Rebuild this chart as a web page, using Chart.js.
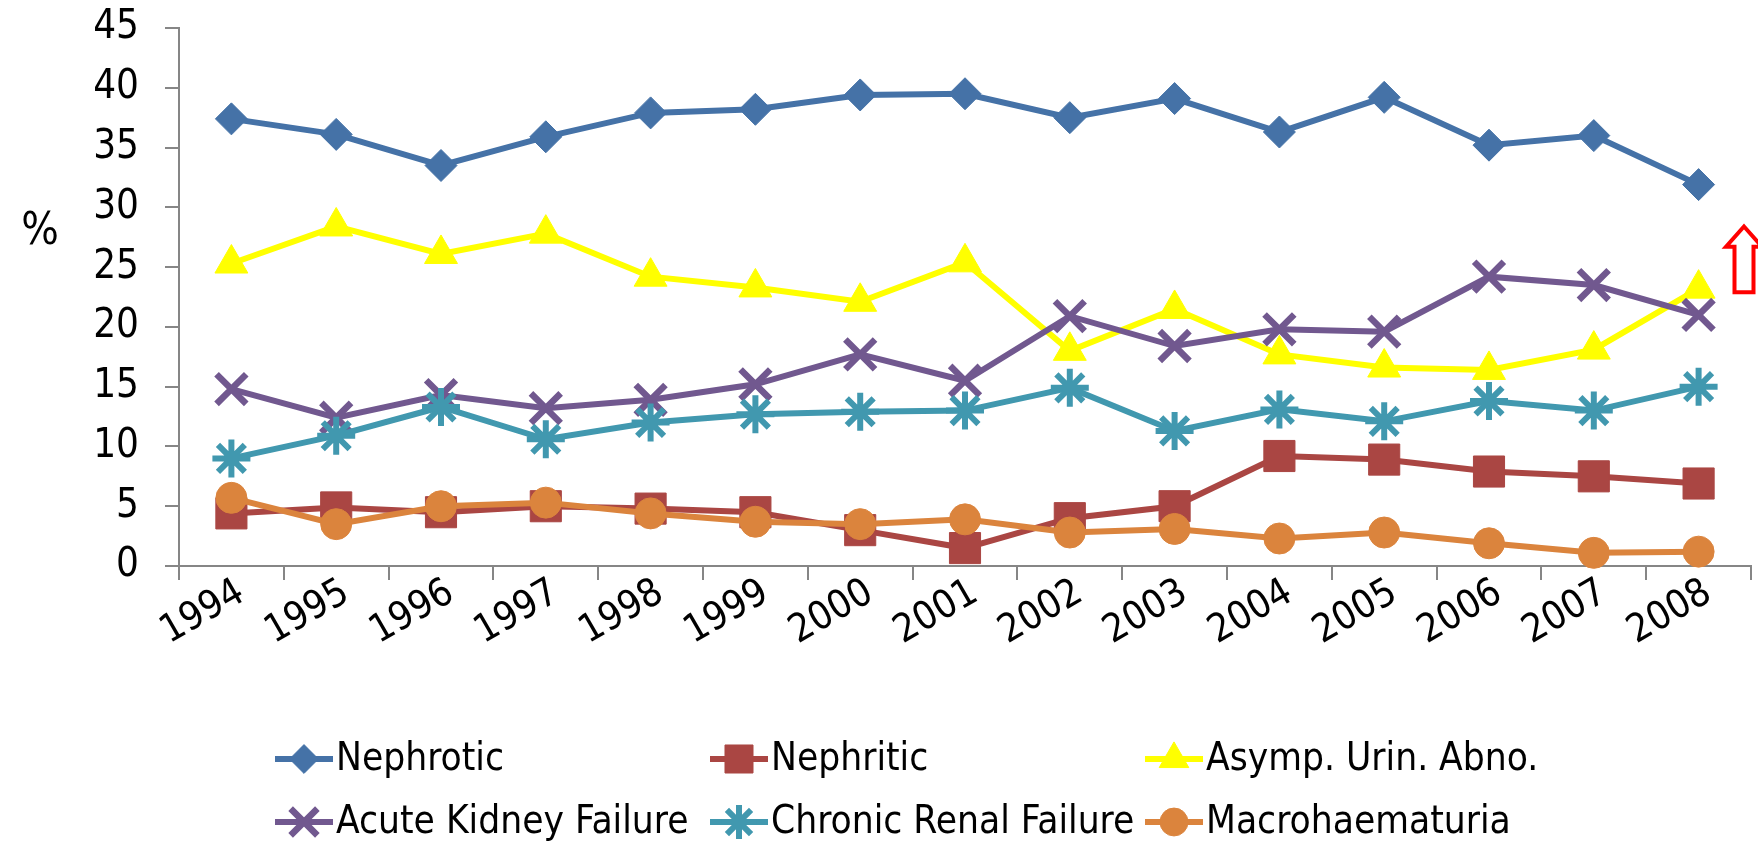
<!DOCTYPE html>
<html>
<head>
<meta charset="utf-8">
<title>Biopsy indications 1994-2008</title>
<script src="https://cdn.jsdelivr.net/npm/chart.js"></script>
<style>
  html, body { margin: 0; padding: 0; background: #fff; }
  canvas { display: block; }
</style>
</head>
<body>
<canvas id="chart" width="1758" height="842"></canvas>
<script>
const years = ['1994', '1995', '1996', '1997', '1998', '1999', '2000', '2001',
  '2002', '2003', '2004', '2005', '2006', '2007', '2008'];

const nephrotic = [37.4, 36.1, 33.5, 35.9, 37.9, 38.2, 39.4, 39.5, 37.5, 39.1, 36.3, 39.2, 35.2, 36.0, 31.9];
const nephritic = [4.4, 4.9, 4.5, 5.0, 4.8, 4.5, 3.0, 1.5, 4.0, 5.0, 9.2, 8.9, 7.9, 7.5, 6.9];
const asympUrin = [25.3, 28.4, 26.1, 27.8, 24.2, 23.3, 22.1, 25.4, 18.0, 21.5, 17.7, 16.6, 16.4, 18.1, 23.2];
const acuteKidney = [14.8, 12.4, 14.3, 13.2, 13.9, 15.2, 17.7, 15.5, 20.9, 18.4, 19.8, 19.6, 24.2, 23.5, 21.0];
const chronicRenal = [9.0, 10.9, 13.3, 10.6, 12.0, 12.7, 12.9, 13.0, 14.9, 11.3, 13.1, 12.1, 13.8, 13.0, 15.0];
const macrohaem = [5.7, 3.5, 5.0, 5.3, 4.4, 3.7, 3.5, 3.9, 2.8, 3.1, 2.3, 2.8, 1.9, 1.1, 1.2];

const seriesNames = ['Nephrotic', 'Nephritic', 'Asymp. Urin. Abno.',
  'Acute Kidney Failure', 'Chronic Renal Failure', 'Macrohaematuria'];
const seriesValues = [nephrotic, nephritic, asympUrin, acuteKidney, chronicRenal, macrohaem];

const yMin = 0;
const yMax = 45;
const yStep = 5;

const FONT = '"DejaVu Sans Condensed", "Liberation Sans", sans-serif';
const AXIS_GREY = '#868686';

// marker look per series, same order as seriesNames
const seriesStyles = [
  { color: '#4572A7', point: 'rectRot', radius: 16, pointBorder: 1 },
  { color: '#AA4643', point: 'rect', radius: 22, pointBorder: 1 },
  { color: '#FFFF00', point: 'triangle', radius: 19, pointBorder: 1 },
  { color: '#71588F', point: 'crossRot', radius: 21, pointBorder: 6.5 },
  { color: '#4198AF', point: 'star', radius: 19, pointBorder: 6 },
  { color: '#DB843D', point: 'circle', radius: 15.5, pointBorder: 1 }
];

function buildDatasets() {
  return seriesNames.map((name, i) => {
    const st = seriesStyles[i];
    return {
      label: name,
      data: seriesValues[i],
      borderColor: st.color,
      backgroundColor: st.color,
      borderWidth: 6,
      pointStyle: st.point,
      pointRadius: st.radius,
      pointHoverRadius: st.radius,
      pointBorderWidth: st.pointBorder,
      pointBackgroundColor: st.color,
      pointBorderColor: st.color,
      tension: 0,
      clip: false,
      // excel draws later series on top
      order: seriesNames.length - i
    };
  });
}

// legend laid out in fixed columns like the original
const gridLegend = {
  id: 'gridLegend',
  afterDraw(chart, args, opts) {
    const ctx = chart.ctx;
    const top = chart.height - opts.bottomOffset;
    ctx.save();
    seriesNames.forEach((name, i) => {
      const st = seriesStyles[i];
      const x = opts.left + (i % 3) * opts.colWidth;
      const y = top + Math.floor(i / 3) * opts.rowHeight;
      ctx.strokeStyle = st.color;
      ctx.fillStyle = st.color;
      ctx.lineWidth = 6;
      ctx.beginPath();
      ctx.moveTo(x, y);
      ctx.lineTo(x + opts.lineLength, y);
      ctx.stroke();
      ctx.lineWidth = st.pointBorder;
      Chart.helpers.drawPoint(ctx, {
        pointStyle: st.point,
        radius: st.radius * 0.9,
        borderWidth: st.pointBorder,
        rotation: 0
      }, x + opts.lineLength / 2, y);
      ctx.fillStyle = '#000';
      ctx.font = opts.fontSize + 'px ' + FONT;
      ctx.textBaseline = 'middle';
      ctx.textAlign = 'left';
      ctx.fillText(name, x + opts.lineLength + 3, y + 1);
    });
    ctx.restore();
  }
};

const percentLabel = {
  id: 'percentLabel',
  afterDraw(chart, args, opts) {
    const ctx = chart.ctx;
    const y = chart.scales.y.getPixelForValue(opts.atValue);
    ctx.save();
    ctx.fillStyle = '#000';
    ctx.font = opts.fontSize + 'px ' + FONT;
    ctx.textAlign = 'center';
    ctx.textBaseline = 'middle';
    ctx.fillText('%', opts.x, y);
    ctx.restore();
  }
};

// hollow red arrow at the right edge
const upArrow = {
  id: 'upArrow',
  afterDraw(chart, args, opts) {
    const ctx = chart.ctx;
    const ys = chart.scales.y;
    const cx = chart.chartArea.right + opts.dx;
    const tip = ys.getPixelForValue(opts.tipValue);
    const neck = ys.getPixelForValue(opts.neckValue);
    const base = ys.getPixelForValue(opts.baseValue);
    ctx.save();
    ctx.beginPath();
    ctx.moveTo(cx, tip);
    ctx.lineTo(cx + opts.headHalf, neck);
    ctx.lineTo(cx + opts.shaftHalf, neck);
    ctx.lineTo(cx + opts.shaftHalf, base);
    ctx.lineTo(cx - opts.shaftHalf, base);
    ctx.lineTo(cx - opts.shaftHalf, neck);
    ctx.lineTo(cx - opts.headHalf, neck);
    ctx.closePath();
    ctx.fillStyle = '#fff';
    ctx.fill();
    ctx.strokeStyle = '#FF0000';
    ctx.lineWidth = 4;
    ctx.lineJoin = 'miter';
    ctx.stroke();
    ctx.restore();
  }
};

function initChart() {
  const ctx = document.getElementById('chart').getContext('2d');
  new Chart(ctx, {
    type: 'line',
    data: { labels: years, datasets: buildDatasets() },
    plugins: [gridLegend, percentLabel, upArrow],
    options: {
      responsive: false,
      animation: false,
      layout: { autoPadding: false, padding: { left: 0, right: 7, top: 28, bottom: 126 } },
      scales: {
        x: {
          offset: true,
          afterFit(scale) {
            scale.height = 150;
            // rotated labels end at the tick, no room needed on the sides
            scale.paddingRight = 0;
            scale.paddingLeft = 0;
          },
          grid: {
            offset: true,
            drawOnChartArea: false,
            drawTicks: true,
            tickLength: 14,
            color: AXIS_GREY,
            lineWidth: 2
          },
          border: { color: AXIS_GREY, width: 2 },
          ticks: {
            color: '#000',
            font: { family: FONT, size: 39 },
            minRotation: 30,
            maxRotation: 30,
            autoSkip: false,
            padding: -10,
            labelOffset: 10
          }
        },
        y: {
          min: yMin,
          max: yMax,
          afterFit(scale) {
            scale.width = 179;
            scale.paddingTop = 0;
            scale.paddingBottom = 0;
          },
          grid: {
            drawOnChartArea: false,
            drawTicks: true,
            tickLength: 14,
            color: AXIS_GREY,
            lineWidth: 2
          },
          border: { color: AXIS_GREY, width: 2 },
          ticks: {
            stepSize: yStep,
            color: '#000',
            font: { family: FONT, size: 40 },
            padding: 26
          }
        }
      },
      plugins: {
        legend: { display: false },
        tooltip: { enabled: false },
        gridLegend: { left: 275, colWidth: 435, rowHeight: 63, bottomOffset: 83, lineLength: 58, fontSize: 38.5 },
        percentLabel: { x: 40, atValue: 27.9, fontSize: 44 },
        upArrow: { dx: -7, tipValue: 28.4, neckValue: 26.7, baseValue: 22.9, headHalf: 18, shaftHalf: 9.5 }
      }
    }
  });
}

window.addEventListener('DOMContentLoaded', () => {
  initChart();
});
</script>
</body>
</html>
